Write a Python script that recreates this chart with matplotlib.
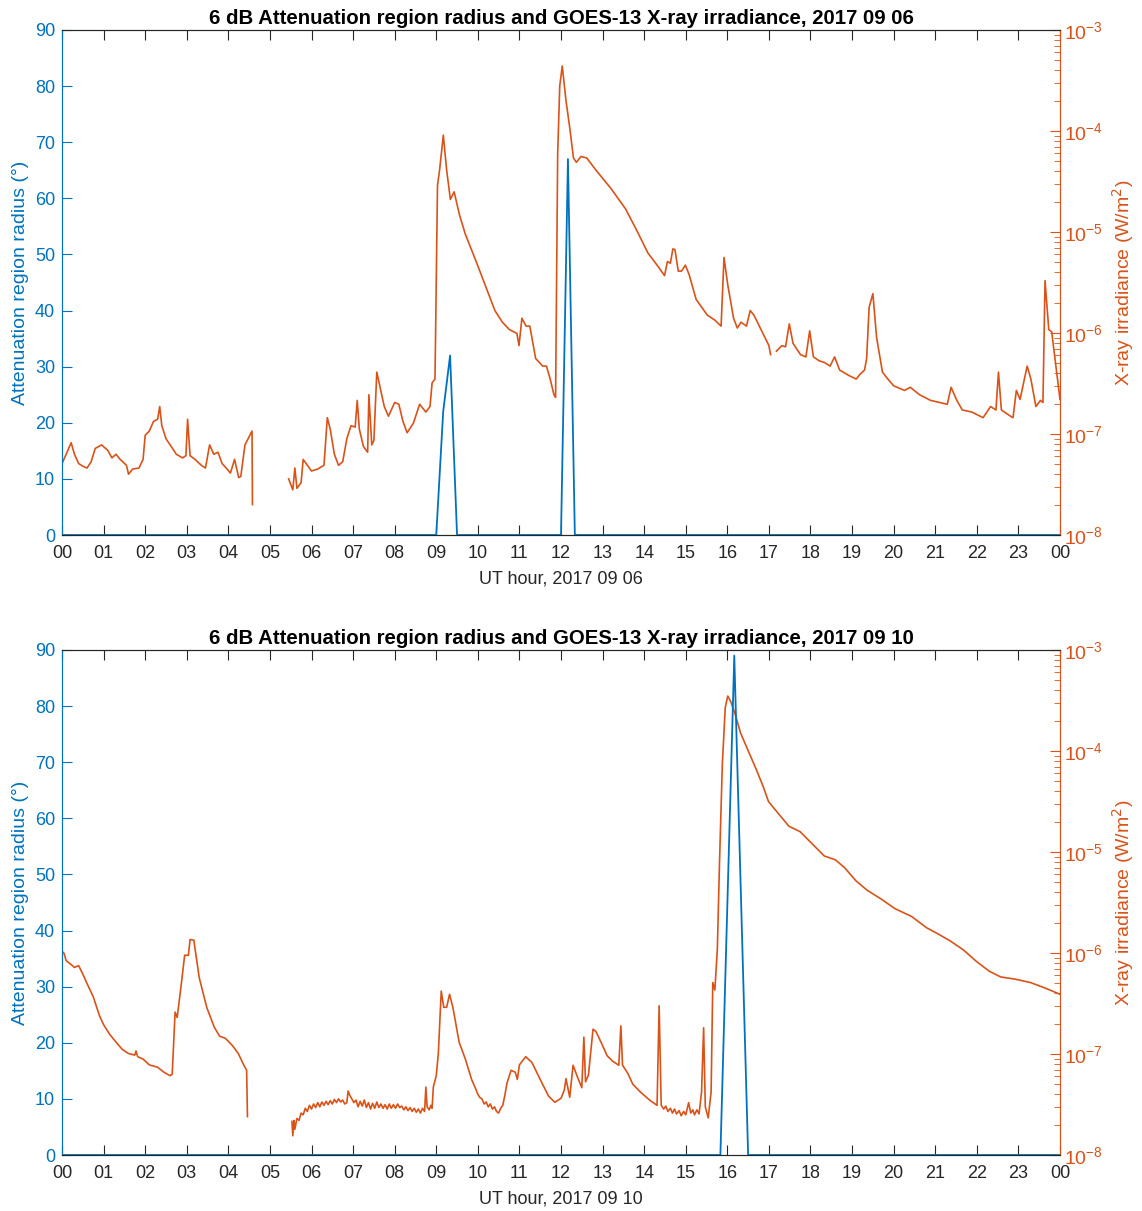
import numpy as np
import matplotlib
matplotlib.use("Agg")
import matplotlib.pyplot as plt
from matplotlib.ticker import LogLocator, FixedLocator, NullFormatter

nan = np.nan

# ---- 2017 09 06 ----
radius_hours_0906 = [0.0, 9.0, 9.167, 9.333, 9.5, 12.0, 12.167, 12.333, 24.0]
radius_deg_0906 = [0, 0, 22, 32, 0, 0, 67, 0, 0]

xray_hours_0906 = [
    0.00, 0.10, 0.22, 0.30, 0.40, 0.50, 0.60, 0.70, 0.80, 0.95,
    1.10, 1.20, 1.30, 1.40, 1.55, 1.60, 1.70, 1.85, 1.95, 2.00,
    2.10, 2.20, 2.30, 2.35, 2.40, 2.50, 2.60, 2.75, 2.90, 2.98,
    3.02, 3.08, 3.20, 3.35, 3.45, 3.55, 3.65, 3.75, 3.85, 3.95,
    4.05, 4.15, 4.25, 4.30, 4.40, 4.50, 4.57, 4.58, 5.00,
    5.45, 5.55, 5.60, 5.65, 5.75, 5.80, 5.90, 6.00, 6.15, 6.30,
    6.38, 6.45, 6.55, 6.65, 6.75, 6.85, 6.95, 7.05, 7.10, 7.15,
    7.25, 7.35, 7.38, 7.45, 7.50, 7.57, 7.65, 7.75, 7.85, 8.00,
    8.10, 8.20, 8.30, 8.45, 8.60, 8.75, 8.85, 8.90, 8.97, 9.03,
    9.08, 9.17, 9.25, 9.34, 9.43, 9.56, 9.70, 9.96, 10.23, 10.41,
    10.59, 10.76, 10.94, 10.99, 11.06, 11.16, 11.25, 11.39, 11.56, 11.65,
    11.74, 11.83, 11.87, 11.92, 11.97, 12.03, 12.12, 12.21, 12.30, 12.37,
    12.48, 12.62, 12.84, 13.20, 13.55, 13.82, 14.09, 14.31, 14.49, 14.56,
    14.63, 14.69, 14.74, 14.82, 14.90, 14.99, 15.08, 15.25, 15.52, 15.70,
    15.85, 15.92, 16.01, 16.15, 16.24, 16.33, 16.46, 16.55, 16.64, 16.77,
    16.91, 17.00, 17.04, 17.10,
    17.18, 17.31, 17.40, 17.49, 17.58, 17.76, 17.89, 17.98, 18.07, 18.21,
    18.34, 18.47, 18.58, 18.70, 18.92, 19.10, 19.19, 19.30, 19.35, 19.41,
    19.50, 19.59, 19.73, 19.86, 20.00, 20.26, 20.40, 20.62, 20.89, 21.29,
    21.38, 21.52, 21.65, 21.88, 22.15, 22.33, 22.46, 22.52, 22.59, 22.81,
    22.87, 22.95, 23.04, 23.21, 23.30, 23.42, 23.53, 23.59, 23.64, 23.73,
    23.80, 24.00,
]
xray_wm2_0906 = [
    5.1e-8, 6.3e-8, 8.2e-8, 6.3e-8, 5.1e-8, 4.8e-8, 4.6e-8, 5.3e-8, 7.2e-8, 7.8e-8,
    6.9e-8, 5.8e-8, 6.3e-8, 5.6e-8, 4.9e-8, 4.0e-8, 4.5e-8, 4.6e-8, 5.6e-8, 9.7e-8,
    1.07e-7, 1.33e-7, 1.4e-7, 1.87e-7, 1.21e-7, 9.0e-8, 7.8e-8, 6.3e-8, 5.8e-8, 6.1e-8,
    1.4e-7, 6.1e-8, 5.6e-8, 4.9e-8, 4.6e-8, 7.8e-8, 6.3e-8, 6.6e-8, 5.1e-8, 4.6e-8,
    4.1e-8, 5.6e-8, 3.7e-8, 3.8e-8, 7.8e-8, 9.4e-8, 1.07e-7, 2.0e-8, nan,
    3.6e-8, 2.8e-8, 4.6e-8, 2.9e-8, 3.3e-8, 5.6e-8, 4.9e-8, 4.3e-8, 4.5e-8, 4.9e-8,
    1.45e-7, 1.12e-7, 6.3e-8, 4.9e-8, 5.3e-8, 9.0e-8, 1.21e-7, 1.17e-7, 2.15e-7, 1.12e-7,
    7.5e-8, 6.6e-8, 2.45e-7, 7.8e-8, 8.6e-8, 4.1e-7, 2.9e-7, 1.87e-7, 1.5e-7, 2.05e-7,
    1.97e-7, 1.33e-7, 1.03e-7, 1.28e-7, 1.97e-7, 1.65e-7, 1.87e-7, 3.2e-7, 3.5e-7, 2.9e-5,
    4.1e-5, 9.1e-5, 4.1e-5, 2.1e-5, 2.5e-5, 1.47e-5, 9.5e-6, 5.1e-6, 2.6e-6, 1.67e-6,
    1.28e-6, 1.08e-6, 9.9e-7, 7.5e-7, 1.4e-6, 1.17e-6, 1.17e-6, 5.6e-7, 4.7e-7, 4.7e-7,
    3.5e-7, 2.45e-7, 2.3e-7, 5.9e-5, 2.8e-4, 4.4e-4, 2.0e-4, 1.08e-4, 5.4e-5, 4.9e-5,
    5.6e-5, 5.4e-5, 4.1e-5, 2.7e-5, 1.7e-5, 1.04e-5, 6.2e-6, 4.7e-6, 3.7e-6, 5.1e-6,
    4.9e-6, 6.8e-6, 6.7e-6, 4.1e-6, 4.1e-6, 4.7e-6, 3.8e-6, 2.15e-6, 1.5e-6, 1.34e-6,
    1.17e-6, 5.6e-6, 3.0e-6, 1.4e-6, 1.12e-6, 1.28e-6, 1.17e-6, 1.67e-6, 1.5e-6, 1.17e-6,
    9.0e-7, 7.5e-7, 6.1e-7, nan,
    6.6e-7, 7.5e-7, 7.3e-7, 1.23e-6, 7.9e-7, 6.1e-7, 5.8e-7, 1.05e-6, 5.8e-7, 5.3e-7,
    5.1e-7, 4.7e-7, 5.8e-7, 4.3e-7, 3.8e-7, 3.5e-7, 3.9e-7, 4.3e-7, 5.6e-7, 1.8e-6,
    2.45e-6, 9.0e-7, 4.1e-7, 3.5e-7, 3.0e-7, 2.7e-7, 2.9e-7, 2.45e-7, 2.15e-7, 1.97e-7,
    2.9e-7, 2.15e-7, 1.73e-7, 1.65e-7, 1.45e-7, 1.87e-7, 1.73e-7, 4.1e-7, 1.73e-7, 1.5e-7,
    1.45e-7, 2.7e-7, 2.2e-7, 4.7e-7, 3.5e-7, 1.87e-7, 2.15e-7, 2.05e-7, 3.3e-6, 1.08e-6,
    1.03e-6, 2.2e-7,
]

# ---- 2017 09 10 ----
radius_hours_0910 = [0.0, 15.833, 16.167, 16.5, 24.0]
radius_deg_0910 = [0, 0, 89, 0, 0]

xray_hours_0910 = [
    0.00, 0.05, 0.10, 0.20, 0.30, 0.40, 0.50, 0.60, 0.75, 0.90,
    1.00, 1.15, 1.30, 1.45, 1.60, 1.75, 1.78, 1.82, 1.95, 2.10,
    2.30, 2.45, 2.60, 2.65, 2.72, 2.77, 2.86, 2.95, 3.04, 3.08,
    3.17, 3.30, 3.48, 3.66, 3.79, 3.93, 4.10, 4.24, 4.37, 4.44,
    4.46, 5.00,
    5.53, 5.55, 5.58, 5.60, 5.65, 5.70, 5.75, 5.80, 5.85, 5.90,
    5.95, 6.00, 6.05, 6.10, 6.15, 6.20, 6.25, 6.30, 6.35, 6.40,
    6.45, 6.50, 6.55, 6.60, 6.65, 6.70, 6.75, 6.80, 6.85, 6.88,
    6.92, 6.97, 7.02, 7.07, 7.12, 7.17, 7.22, 7.27, 7.32, 7.37,
    7.42, 7.47, 7.52, 7.57, 7.62, 7.67, 7.72, 7.77, 7.82, 7.87,
    7.92, 7.97, 8.02, 8.07, 8.12, 8.17, 8.22, 8.27, 8.32, 8.37,
    8.42, 8.47, 8.52, 8.57, 8.62, 8.67, 8.72, 8.75, 8.78, 8.83,
    8.87, 8.90, 8.93, 9.00, 9.05, 9.12, 9.18, 9.25, 9.32, 9.40,
    9.55, 9.70, 9.85, 9.95, 10.00, 10.05, 10.10, 10.15, 10.20, 10.25,
    10.30, 10.35, 10.40, 10.45, 10.50, 10.55, 10.60, 10.65, 10.70, 10.80,
    10.90, 10.95, 11.00, 11.15, 11.30, 11.50, 11.70, 11.85, 12.00, 12.08,
    12.12, 12.21, 12.29, 12.39, 12.50, 12.55, 12.59, 12.66, 12.77, 12.84,
    12.97, 13.11, 13.24, 13.39, 13.44, 13.48, 13.60, 13.73, 13.91, 14.13,
    14.31, 14.36, 14.41, 14.47, 14.52, 14.57, 14.63, 14.68, 14.73, 14.78,
    14.84, 14.89, 14.95, 15.00, 15.07, 15.12, 15.17, 15.21, 15.27, 15.32,
    15.38, 15.43, 15.47, 15.54, 15.61, 15.65, 15.70, 15.76, 15.81, 15.88,
    15.95, 16.01, 16.08, 16.19, 16.32, 16.50, 16.68, 16.86, 16.99, 17.21,
    17.48, 17.75, 18.02, 18.33, 18.60, 18.82, 19.09, 19.36, 19.71, 20.03,
    20.43, 20.79, 21.05, 21.37, 21.68, 21.99, 22.30, 22.57, 22.93, 23.29,
    23.64, 24.00,
]
xray_wm2_0910 = [
    1.04e-6, 9.9e-7, 8.4e-7, 7.8e-7, 7.2e-7, 7.5e-7, 6.2e-7, 5.0e-7, 3.7e-7, 2.4e-7,
    1.95e-7, 1.56e-7, 1.31e-7, 1.11e-7, 1.01e-7, 9.75e-8, 1.07e-7, 9.4e-8, 8.9e-8, 7.8e-8,
    7.4e-8, 6.6e-8, 6.1e-8, 6.3e-8, 2.6e-7, 2.3e-7, 4.6e-7, 9.5e-7, 9.5e-7, 1.36e-6,
    1.34e-6, 5.7e-7, 2.9e-7, 1.85e-7, 1.5e-7, 1.43e-7, 1.21e-7, 1.01e-7, 7.8e-8, 6.9e-8,
    2.4e-8, nan,
    2.15e-8, 1.55e-8, 2.2e-8, 1.8e-8, 2.3e-8, 2.2e-8, 2.6e-8, 2.5e-8, 2.9e-8, 2.7e-8,
    3.1e-8, 2.85e-8, 3.2e-8, 2.95e-8, 3.3e-8, 3.0e-8, 3.35e-8, 3.1e-8, 3.4e-8, 3.15e-8,
    3.45e-8, 3.2e-8, 3.55e-8, 3.3e-8, 3.6e-8, 3.35e-8, 3.5e-8, 3.2e-8, 3.3e-8, 4.3e-8,
    3.9e-8, 3.6e-8, 3.3e-8, 3.5e-8, 3.0e-8, 3.4e-8, 3.05e-8, 3.5e-8, 2.95e-8, 3.3e-8,
    2.85e-8, 3.25e-8, 2.9e-8, 3.35e-8, 2.95e-8, 3.2e-8, 2.9e-8, 3.15e-8, 2.85e-8, 3.2e-8,
    2.9e-8, 3.15e-8, 2.9e-8, 3.2e-8, 2.95e-8, 3.05e-8, 2.8e-8, 3.0e-8, 2.75e-8, 2.95e-8,
    2.7e-8, 2.9e-8, 2.65e-8, 2.85e-8, 2.6e-8, 2.9e-8, 2.7e-8, 4.7e-8, 3.0e-8, 2.8e-8,
    3.1e-8, 2.9e-8, 4.7e-8, 6.1e-8, 1.01e-7, 4.2e-7, 2.9e-7, 2.9e-7, 3.9e-7, 2.9e-7,
    1.31e-7, 8.9e-8, 5.6e-8, 4.5e-8, 4.0e-8, 3.7e-8, 3.6e-8, 3.2e-8, 3.35e-8, 3.0e-8,
    3.2e-8, 2.85e-8, 3.0e-8, 2.7e-8, 2.6e-8, 2.9e-8, 3.1e-8, 3.9e-8, 5.14e-8, 6.9e-8,
    6.6e-8, 5.6e-8, 7.8e-8, 9.4e-8, 8.25e-8, 5.6e-8, 3.83e-8, 3.33e-8, 3.64e-8, 4.4e-8,
    5.7e-8, 3.73e-8, 7.74e-8, 6.0e-8, 4.64e-8, 1.47e-7, 5.3e-8, 6.2e-8, 1.76e-7, 1.67e-7,
    1.29e-7, 9.6e-8, 8.5e-8, 7.74e-8, 1.9e-7, 7.74e-8, 6.5e-8, 5.0e-8, 4.2e-8, 3.5e-8,
    3.1e-8, 3.0e-7, 3.1e-8, 2.85e-8, 3.05e-8, 2.7e-8, 2.9e-8, 2.6e-8, 2.85e-8, 2.55e-8,
    2.75e-8, 2.45e-8, 2.7e-8, 2.5e-8, 3.3e-8, 2.6e-8, 2.8e-8, 2.5e-8, 2.8e-8, 2.55e-8,
    4.2e-8, 1.82e-7, 3.0e-8, 2.33e-8, 4.2e-8, 5.1e-7, 4.3e-7, 1.1e-6, 7.4e-6, 7.45e-5,
    2.7e-4, 3.5e-4, 3.1e-4, 2.3e-4, 1.5e-4, 1.01e-4, 6.8e-5, 4.47e-5, 3.16e-5, 2.45e-5,
    1.8e-5, 1.59e-5, 1.23e-5, 9.14e-6, 8.36e-6, 7.0e-6, 5.2e-6, 4.19e-6, 3.4e-6, 2.75e-6,
    2.3e-6, 1.78e-6, 1.56e-6, 1.31e-6, 1.07e-6, 8.25e-7, 6.6e-7, 5.8e-7, 5.5e-7, 5.1e-7,
    4.5e-7, 3.9e-7,
]

hour_labels = ["%02d" % (h % 24) for h in range(25)]

BLUE = "#0072BD"
ORANGE = "#D95319"
DARK = "#262626"

plt.rcParams["font.family"] = "Liberation Sans"


def draw_panel(fig, rect, r_hours, r_deg, x_hours, x_vals, date_str):
    ax = fig.add_axes(rect)
    ax2 = ax.twinx()
    # keep the radius line above the irradiance line
    ax.set_zorder(ax2.get_zorder() + 1)
    ax.patch.set_visible(False)

    ax2.plot(x_hours, x_vals, color=ORANGE, linewidth=1.2)
    ax.plot(r_hours, r_deg, color=BLUE, linewidth=1.3)

    ax.set_xlim(0, 24)
    ax.set_ylim(0, 90)
    ax.set_yticks(range(0, 91, 10))
    ax.set_xticks(range(25))
    ax.set_xticklabels(hour_labels)

    ax2.set_yscale("log")
    ax2.set_ylim(1e-8, 1e-3)
    ax2.yaxis.set_major_locator(FixedLocator([1e-8, 1e-7, 1e-6, 1e-5, 1e-4, 1e-3]))
    ax2.yaxis.set_minor_locator(LogLocator(base=10, subs=np.arange(2, 10)))
    ax2.yaxis.set_minor_formatter(NullFormatter())

    ax.tick_params(axis="x", direction="in", length=7, width=0.8, colors=DARK,
                   labelsize=13, top=True, pad=7)
    ax.tick_params(axis="y", direction="in", length=7, width=0.8, colors=BLUE,
                   labelsize=13, pad=5)
    ax2.tick_params(axis="y", which="major", direction="in", length=7, width=0.8,
                    colors=ORANGE, labelsize=14, pad=3)
    ax2.tick_params(axis="y", which="minor", direction="in", length=4, width=0.6,
                    colors=ORANGE)

    for a in (ax, ax2):
        a.spines["top"].set_color(DARK)
        a.spines["bottom"].set_color(DARK)
        a.spines["left"].set_color(BLUE)
        a.spines["right"].set_color(ORANGE)
        for s in a.spines.values():
            s.set_linewidth(0.8)

    ax.set_ylabel("Attenuation region radius (°)", color=BLUE, fontsize=14, labelpad=4)
    ax2.set_ylabel("X-ray irradiance (W/m$^2$)", color=ORANGE, fontsize=14, labelpad=5)
    ax.set_xlabel("UT hour, " + date_str, color=DARK, fontsize=13, labelpad=6)
    ax.set_title("6 dB Attenuation region radius and GOES-13 X-ray irradiance, " + date_str,
                 fontsize=14.7, fontweight="bold", color="black", pad=4)
    return ax, ax2


fig = plt.figure(figsize=(11.42, 12.11), dpi=100)
draw_panel(fig, [62 / 1142, 1 - 535 / 1211, 998 / 1142, 505 / 1211],
           radius_hours_0906, radius_deg_0906, xray_hours_0906, xray_wm2_0906, "2017 09 06")
draw_panel(fig, [62 / 1142, 1 - 1155 / 1211, 998 / 1142, 505 / 1211],
           radius_hours_0910, radius_deg_0910, xray_hours_0910, xray_wm2_0910, "2017 09 10")

fig.savefig("out.png", dpi=100)
